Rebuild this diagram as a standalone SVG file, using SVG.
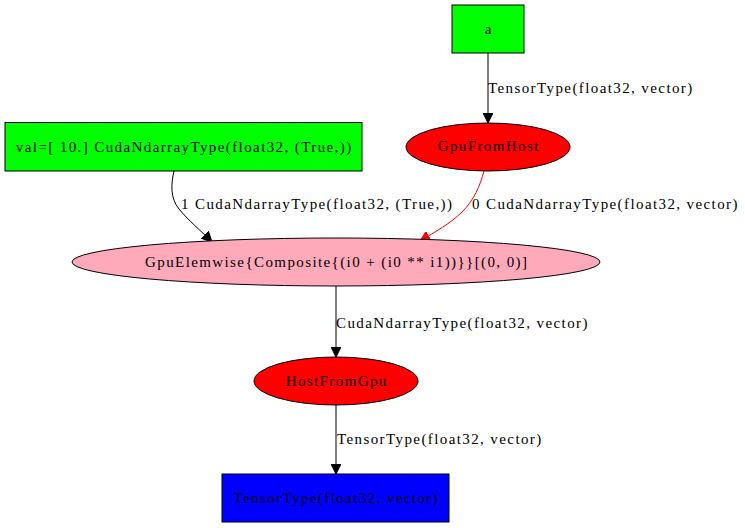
<svg xmlns="http://www.w3.org/2000/svg" width="745" height="528" viewBox="0 0 745 528">
  <style>
    text { font-family: "Liberation Serif", "Times New Roman", serif; font-size: 15px; letter-spacing: 1.4px; fill: #000; }
    .node { stroke: #000; stroke-width: 1; }
    .edge { fill: none; stroke: #000; stroke-width: 1; }
    .edge.red { stroke: #ff0000; }
    .mid { text-anchor: middle; }
  </style>
  <defs>
    <marker id="arrow" markerUnits="userSpaceOnUse" markerWidth="11" markerHeight="10" refX="10" refY="5" orient="auto">
      <path d="M0,0 L10,5 L0,10 Z" fill="#000" stroke="#000"/>
    </marker>
    <marker id="arrowRed" markerUnits="userSpaceOnUse" markerWidth="11" markerHeight="10" refX="10" refY="5" orient="auto">
      <path d="M0,0 L10,5 L0,10 Z" fill="#ff0000" stroke="#ff0000"/>
    </marker>
  </defs>

  <g id="edges">
    <g id="e_a_gfh">
      <path class="edge" d="M488,53 L488,123" marker-end="url(#arrow)"/>
      <text x="488" y="93">TensorType(float32, vector)</text>
    </g>
    <g id="e_val_elem">
      <path class="edge" d="M174,171 C171,184 170,198 179,209 C188,220 200,230 212,242" marker-end="url(#arrow)"/>
      <text x="181" y="209">1 CudaNdarrayType(float32, (True,))</text>
    </g>
    <g id="e_gfh_elem">
      <path class="edge red" d="M484,171 C480,186 474,200 462,212 C451,223 435,232 420,241" marker-end="url(#arrowRed)"/>
      <text x="472" y="209">0 CudaNdarrayType(float32, vector)</text>
    </g>
    <g id="e_elem_hfg">
      <path class="edge" d="M336,286 L336,357" marker-end="url(#arrow)"/>
      <text x="336" y="328">CudaNdarrayType(float32, vector)</text>
    </g>
    <g id="e_hfg_out">
      <path class="edge" d="M336,405 L336,474" marker-end="url(#arrow)"/>
      <text x="337" y="444">TensorType(float32, vector)</text>
    </g>
  </g>

  <g id="a">
    <rect class="node" x="452" y="5" width="72" height="48" fill="#00ff00"/>
    <text class="mid" x="488.7" y="34">a</text>
  </g>
  <g id="gpu_from_host">
    <ellipse class="node" cx="488" cy="147" rx="82" ry="24" fill="#ff0000"/>
    <text class="mid" x="488.7" y="151">GpuFromHost</text>
  </g>
  <g id="val">
    <rect class="node" x="5" y="122.5" width="357" height="48.5" fill="#00ff00"/>
    <text class="mid" x="184.2" y="152">val=[ 10.] CudaNdarrayType(float32, (True,))</text>
  </g>
  <g id="gpu_elemwise">
    <ellipse class="node" cx="336" cy="262" rx="264" ry="24" fill="#ffaabb"/>
    <text class="mid" x="336.7" y="267">GpuElemwise{Composite{(i0 + (i0 ** i1))}}[(0, 0)]</text>
  </g>
  <g id="host_from_gpu">
    <ellipse class="node" cx="336" cy="381" rx="82" ry="24" fill="#ff0000"/>
    <text class="mid" x="336.7" y="386">HostFromGpu</text>
  </g>
  <g id="output">
    <rect class="node" x="222" y="474" width="227" height="48" fill="#0000ff"/>
    <text class="mid" x="336.2" y="503">TensorType(float32, vector)</text>
  </g>
</svg>
